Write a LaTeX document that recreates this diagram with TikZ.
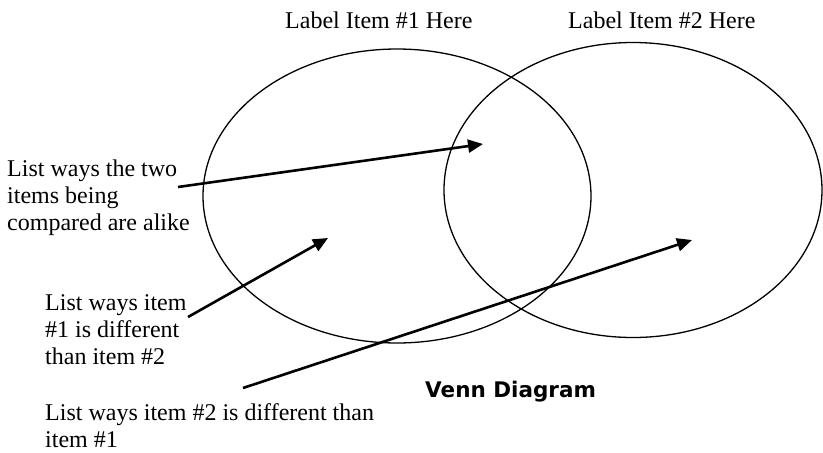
\documentclass[tikz,border=0pt]{standalone}
\usepackage{fontspec}
\setmainfont{Liberation Serif}
\newfontfamily\titlefont{DejaVu Sans}
\usepackage{tikz}
\usetikzlibrary{arrows.meta,positioning,shapes.geometric}

\begin{document}
\begin{tikzpicture}[
    x=1pt, y=-1pt,
    circ/.style={ellipse, draw, line width=1.3pt, inner sep=0pt},
    note/.style={align=left, inner sep=0pt, anchor=north west, font=\fontsize{24}{27}\selectfont},
    head/.style={inner sep=0pt, anchor=base west, font=\fontsize{24}{27}\selectfont},
    arrow/.style={-{Triangle[length=15pt,width=13pt]}, line width=2.6pt},
  ]
  \useasboundingbox (0,0) rectangle (823,453);

  % Circles
  \node[circ, minimum width=388pt, minimum height=294pt] (item1) at (397,196) {};
  \node[circ, minimum width=378pt, minimum height=295pt] (item2) at (633,190) {};

  % Labels above
  \node[head] (label1) at (285,28) {Label Item \#1 Here};
  \node[head] (label2) at (568,28) {Label Item \#2 Here};

  % Notes on the left
  \node[note] (alike) at (7,160) {List ways the two\\items being\\compared are alike};
  \node[note] (diff1) at (45,294) {List ways item\\\#1 is different\\than item \#2};
  \node[note] (diff2) at (45,403) {List ways item \#2 is different than\\item \#1};

  % Title
  \node[inner sep=0pt, anchor=base west, font=\titlefont\bfseries\fontsize{21.5}{26}\selectfont] (title) at (425,397) {Venn Diagram};

  % Arrow ends
  \coordinate (alikeStart) at (178,187);
  \coordinate (alikeEnd) at (483,144);
  \coordinate (diff1Start) at (188,317);
  \coordinate (diff1End) at (328,238);
  \coordinate (diff2Start) at (243,388);
  \coordinate (diff2End) at (692,240);

  % Arrows
  \draw[arrow] (alikeStart) -- (alikeEnd);
  \draw[arrow] (diff1Start) -- (diff1End);
  \draw[arrow] (diff2Start) -- (diff2End);
\end{tikzpicture}
\end{document}
